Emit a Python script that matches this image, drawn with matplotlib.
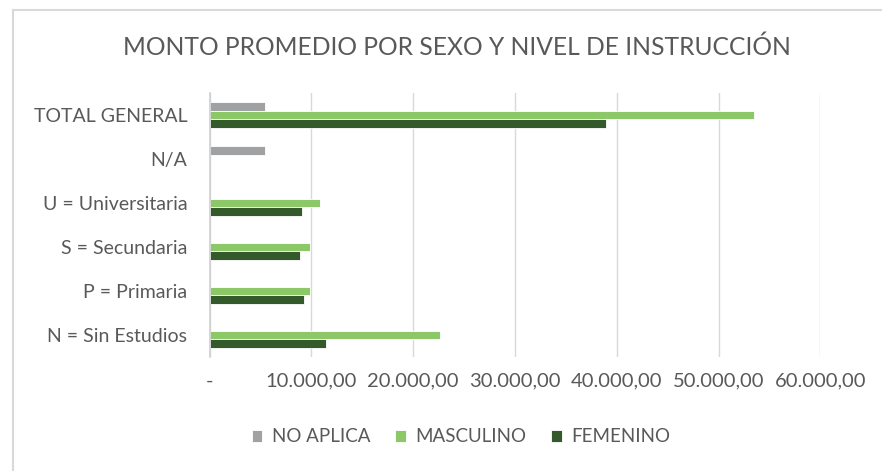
import numpy as np
import matplotlib
matplotlib.use("Agg")
import matplotlib.pyplot as plt
from matplotlib.ticker import FuncFormatter

categorias = ["N = Sin Estudios", "P = Primaria", "S = Secundaria",
              "U = Universitaria", "N/A", "TOTAL GENERAL"]
no_aplica = [0, 0, 0, 0, 5430, 5420]
masculino = [22640, 9870, 9870, 10830, 0, 53530]
femenino = [11450, 9300, 8910, 9110, 0, 38980]

series = [("NO APLICA", no_aplica, "#A0A1A3", 0.2),
          ("MASCULINO", masculino, "#8CC868", 0.0),
          ("FEMENINO", femenino, "#345A2C", -0.2)]

plt.rcParams['font.family'] = ['Lato', 'DejaVu Sans']
txt = "#595959"

fig = plt.figure(figsize=(8.82, 4.71), dpi=100)
ax = fig.add_axes([209.5 / 882, 1 - 357 / 471, 610.8 / 882, 264 / 471])

y = np.arange(len(categorias))
for nombre, vals, color, off in series:
    vals = np.array(vals, dtype=float)
    mask = vals > 0
    ax.barh(y[mask] + off, vals[mask], height=0.2, color=color,
            edgecolor="white", linewidth=0.6, label=nombre, zorder=3)

ax.set_xlim(0, 60000)
ax.set_ylim(-0.5, 5.5)
ax.set_xticks(np.arange(0, 60001, 10000))
ax.xaxis.set_major_formatter(FuncFormatter(
    lambda v, p: "-" if v == 0 else f"{v:,.2f}".replace(",", "X").replace(".", ",").replace("X", ".")))
ax.set_yticks(y)
ax.set_yticklabels(categorias)
ax.tick_params(axis="x", length=0, pad=11, labelsize=14.5, labelcolor=txt)
ax.tick_params(axis="y", length=0, pad=16, labelsize=14, labelcolor=txt)
ax.grid(axis="x", color="#D9D9D9", linewidth=1, zorder=0)
for s in ["top", "right", "bottom"]:
    ax.spines[s].set_visible(False)
ax.spines["left"].set_color("#D0D0D0")
ax.spines["left"].set_linewidth(1.2)
ax.spines["left"].set_zorder(4)

fig.text(457 / 882, 1 - 47 / 471, "MONTO PROMEDIO POR SEXO Y NIVEL DE INSTRUCCIÓN",
         ha="center", va="center", fontsize=17.7, color=txt)

h, l = ax.get_legend_handles_labels()
fig.legend(h, l, loc="center", bbox_to_anchor=(461 / 882, 1 - 437 / 471), ncol=3,
           frameon=False, fontsize=13.5, labelcolor=txt, handlelength=0.55,
           handleheight=0.55, handletextpad=0.5, columnspacing=1.35)

# chart border (top and left visible)
fig.add_artist(plt.Line2D([13 / 882, 1], [1 - 10 / 471] * 2, color="#D9D9D9", lw=1.5))
fig.add_artist(plt.Line2D([13 / 882] * 2, [0, 1 - 10 / 471], color="#D9D9D9", lw=1.5))

fig.savefig("out.png", dpi=100)
